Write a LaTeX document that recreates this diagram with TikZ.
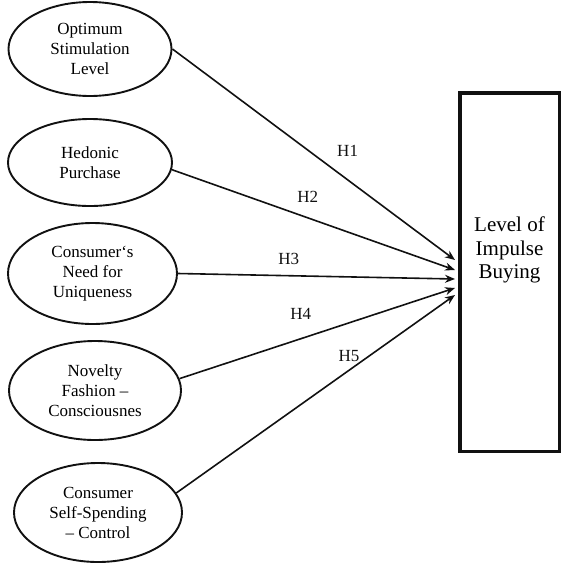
\documentclass[tikz,border=0pt]{standalone}
\usepackage{fontspec}
\setmainfont{Liberation Serif}
\usetikzlibrary{shapes.geometric, arrows.meta}
\definecolor{inkcolor}{HTML}{111111}

\begin{document}
\begin{tikzpicture}[
  x=1pt, y=-1pt, >=Stealth, align=center,
]

\tikzset{
  construct/.style={ellipse, draw=inkcolor, line width=1.9pt, inner sep=0pt,
    font=\fontsize{17}{20}\selectfont},
  outcome/.style={rectangle, draw=inkcolor, line width=3.5pt,
    minimum width=99.5pt, minimum height=358.5pt},
  flowline/.style={-{Stealth[length=10pt, width=8pt]}, inkcolor, line width=1.6pt},
  hyp/.style={font=\fontsize{17}{20}\selectfont, inner sep=0pt, anchor=south},
}

\useasboundingbox (0,0) rectangle (564,579);

% ---- constructs (left column) ----
\node[construct, minimum width=163pt, minimum height=94pt] (osl) at (90,49)
  {Optimum\\Stimulation\\Level};
\node[construct, minimum width=164pt, minimum height=87pt] (hp) at (90,162.5)
  {Hedonic\\Purchase};
\node[construct, minimum width=169pt, minimum height=101pt] (cnu) at (92.5,273.5)
  {Consumer\symbol{96}s\\Need for\\Uniqueness};
\node[construct, minimum width=172pt, minimum height=99pt] (nfc) at (95,390.5)
  {Novelty\\Fashion –\\Consciousnes};
\node[construct, minimum width=168pt, minimum height=99pt] (cssc) at (98,512.5)
  {Consumer\\Self-Spending\\– Control};

% ---- dependent variable ----
\node[outcome,
  label={[font=\fontsize{21}{23.5}\selectfont, align=center, yshift=22pt]center:Level of\\Impulse\\Buying}]
  (lib) at (509.5,272) {};

% ---- hypotheses ----
\draw[flowline] (osl.east) -- node[hyp, pos=0.62, above=22.6pt]{H1} ([xshift=-3pt, yshift=12pt]lib.west);
\draw[flowline] (hp.-5) -- node[hyp, pos=0.48, above=14.5pt]{H2} ([xshift=-3pt, yshift=2pt]lib.west);
\draw[flowline] (cnu.east) -- node[hyp, pos=0.40, above=10.4pt]{H3} ([xshift=-3pt, yshift=-7pt]lib.west);
\draw[flowline] (nfc.8) -- node[hyp, pos=0.44, above=18pt]{H4} ([xshift=-3pt, yshift=-16pt]lib.west);
\draw[flowline] (cssc.14) -- node[hyp, pos=0.62, above=8pt]{H5} ([xshift=-3pt, yshift=-23pt]lib.west);

\end{tikzpicture}
\end{document}
